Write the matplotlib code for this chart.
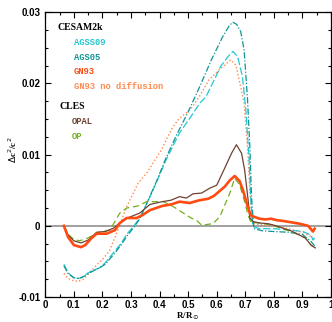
import matplotlib
matplotlib.use("Agg")
import matplotlib.pyplot as plt
from matplotlib.ticker import MultipleLocator, FuncFormatter

# ---- data ----
x_agss09 = [0.065, 0.08, 0.10, 0.116, 0.13, 0.15, 0.17, 0.19, 0.21, 0.244, 0.265, 0.285, 0.31, 0.331,
            0.36, 0.39, 0.422, 0.469, 0.509, 0.54, 0.562, 0.59, 0.614, 0.64, 0.657, 0.673, 0.69, 0.702,
            0.713, 0.72, 0.727, 0.75, 0.80, 0.856, 0.902, 0.93, 0.937, 0.943]
y_agss09 = [-0.0054, -0.0066, -0.0073, -0.0074, -0.0072, -0.0066, -0.0062, -0.0059, -0.0052, -0.0035,
            -0.0025, -0.0012, 0.0000, 0.0011, 0.0035, 0.0062, 0.0092, 0.0130, 0.0153, 0.0172, 0.0181,
            0.0204, 0.0224, 0.0238, 0.0245, 0.0238, 0.0210, 0.0163, 0.0097, 0.0030, -0.0001, -0.0004,
            -0.0004, -0.0006, -0.0008, -0.0013, -0.0020, -0.0017]

x_ags05 = [0.065, 0.08, 0.10, 0.12, 0.14, 0.16, 0.19, 0.21, 0.244, 0.265, 0.285, 0.31, 0.331, 0.36,
           0.39, 0.422, 0.46, 0.50, 0.54, 0.58, 0.62, 0.645, 0.657, 0.67, 0.684, 0.696, 0.708, 0.716,
           0.722, 0.73, 0.76, 0.80, 0.85, 0.90, 0.93, 0.943]
y_ags05 = [-0.0056, -0.0067, -0.0073, -0.0074, -0.0070, -0.0065, -0.0059, -0.0054, -0.0038, -0.0027,
           -0.0015, -0.0002, 0.0010, 0.0036, 0.0063, 0.0095, 0.0128, 0.0160, 0.0195, 0.0232, 0.0265,
           0.0282, 0.0286, 0.0283, 0.0273, 0.0247, 0.0177, 0.0111, 0.0040, -0.0004, -0.0007, -0.0008,
           -0.0009, -0.0012, -0.0022, -0.0028]

x_gn93 = [0.065, 0.08, 0.10, 0.125, 0.14, 0.16, 0.18, 0.215, 0.244, 0.261, 0.285, 0.32, 0.34, 0.366,
          0.41, 0.44, 0.47, 0.505, 0.54, 0.57, 0.59, 0.628, 0.646, 0.663, 0.68, 0.692, 0.705, 0.716,
          0.722, 0.75, 0.77, 0.79, 0.81, 0.83, 0.86, 0.89, 0.92, 0.937, 0.943]
y_gn93 = [0.0, -0.0016, -0.0027, -0.0030, -0.0027, -0.0018, -0.0011, -0.0011, -0.0006, 0.0004, 0.0011,
          0.0011, 0.0015, 0.0022, 0.0028, 0.0030, 0.0034, 0.0032, 0.0036, 0.0038, 0.0042, 0.0055, 0.0064,
          0.0070, 0.0063, 0.0050, 0.0032, 0.0018, 0.0014, 0.0010, 0.0009, 0.0010, 0.0008, 0.0007, 0.0005,
          0.0003, 0.0000, -0.0008, -0.0004]

x_gn93nd = [0.065, 0.08, 0.098, 0.115, 0.133, 0.155, 0.18, 0.205, 0.226, 0.256, 0.285, 0.325, 0.355,
            0.38, 0.407, 0.422, 0.445, 0.469, 0.492, 0.515, 0.538, 0.573, 0.608, 0.649, 0.667, 0.684,
            0.696, 0.708, 0.716, 0.725, 0.75, 0.80, 0.85, 0.90, 0.93, 0.943]
y_gn93nd = [-0.0067, -0.0074, -0.0077, -0.0078, -0.0075, -0.0066, -0.0055, -0.0045, -0.0034, -0.0004,
            0.0027, 0.0060, 0.0074, 0.0090, 0.0107, 0.0120, 0.0138, 0.0151, 0.0158, 0.0167, 0.0181,
            0.0205, 0.0219, 0.0233, 0.0226, 0.0195, 0.0172, 0.0110, 0.0050, 0.0003, 0.0002, 0.0000,
            -0.0004, -0.0009, -0.0015, -0.0020]

x_opal = [0.065, 0.08, 0.10, 0.125, 0.15, 0.18, 0.21, 0.24, 0.26, 0.28, 0.30, 0.331, 0.366, 0.41, 0.44,
          0.47, 0.494, 0.517, 0.547, 0.576, 0.60, 0.628, 0.652, 0.669, 0.687, 0.698, 0.71, 0.716, 0.727,
          0.75, 0.78, 0.80, 0.83, 0.86, 0.89, 0.91, 0.93, 0.945]
y_opal = [0.0, -0.0013, -0.0021, -0.0024, -0.0020, -0.0009, -0.0008, -0.0003, 0.0004, 0.0010, 0.0013,
          0.0018, 0.0030, 0.0034, 0.0036, 0.0041, 0.0039, 0.0045, 0.0046, 0.0053, 0.0057, 0.0081, 0.0102,
          0.0114, 0.0102, 0.0078, 0.0036, 0.0011, 0.0006, 0.0004, 0.0003, 0.0001, -0.0003, -0.0007,
          -0.0013, -0.0017, -0.0027, -0.0031]

x_op = [0.065, 0.08, 0.10, 0.12, 0.15, 0.18, 0.20, 0.226, 0.261, 0.285, 0.325, 0.355, 0.413, 0.448,
        0.483, 0.51, 0.529, 0.547, 0.587, 0.611, 0.646, 0.663, 0.68, 0.695, 0.71, 0.72, 0.75, 0.78, 0.80,
        0.83, 0.86, 0.89, 0.91, 0.93, 0.945]
y_op = [0.0, -0.0012, -0.0019, -0.0021, -0.0017, -0.0010, -0.0008, -0.0006, 0.0018, 0.0025, 0.0028,
        0.0034, 0.0034, 0.0027, 0.0018, 0.0011, 0.0008, 0.0001, 0.0003, 0.0013, 0.0046, 0.0067, 0.0058,
        0.0038, 0.0015, 0.0005, 0.0004, 0.0002, 0.0000, -0.0004, -0.0008, -0.0013, -0.0017, -0.0027,
        -0.0031]

c_agss09 = '#22c8d2'
c_ags05 = '#119494'
c_gn93 = '#ff4a12'
c_gn93nd = '#ff8a50'
c_opal = '#6e4232'
c_op = '#72b01e'

fig = plt.figure(figsize=(3.32, 3.22), dpi=100)
ax = fig.add_axes([0.1364, 0.0776, 0.8605, 0.8842])

ax.axhline(0, color='#999999', lw=1.3, zorder=1)

ax.plot(x_gn93nd, y_gn93nd, color=c_gn93nd, lw=1.0, ls=(0, (1, 1.6)))
ax.plot(x_agss09, y_agss09, color=c_agss09, lw=0.9, ls=(0, (6, 2)))
ax.plot(x_ags05, y_ags05, color=c_ags05, lw=0.9, ls=(0, (5, 1.5, 1, 1.5)))
ax.plot(x_op, y_op, color=c_op, lw=0.9, ls=(0, (5, 3)))
ax.plot(x_opal, y_opal, color=c_opal, lw=0.9)
ax.plot(x_gn93, y_gn93, color=c_gn93, lw=1.9)

ax.set_xlim(0, 1)
ax.set_ylim(-0.01, 0.03)
ax.xaxis.set_major_locator(MultipleLocator(0.1))
ax.xaxis.set_minor_locator(MultipleLocator(0.05))
ax.yaxis.set_major_locator(MultipleLocator(0.01))
ax.yaxis.set_minor_locator(MultipleLocator(0.0025))
ax.xaxis.set_major_formatter(FuncFormatter(lambda v, p: '0' if abs(v) < 1e-9 else ('1' if abs(v - 1) < 1e-9 else f'{v:.1f}')))
ax.yaxis.set_major_formatter(FuncFormatter(lambda v, p: '0' if abs(v) < 1e-9 else f'{v:.2f}'))
ax.tick_params(which='both', direction='in', top=True, right=True, width=0.8)
ax.tick_params(which='major', length=4)
ax.tick_params(which='minor', length=2)
ax.tick_params(axis='x', pad=2.5)
for lab in ax.get_xticklabels() + ax.get_yticklabels():
    lab.set_fontfamily('Liberation Sans')
    lab.set_fontweight('bold')
    lab.set_fontsize(7)
for s in ax.spines.values():
    s.set_linewidth(0.9)

# axis titles placed by hand so they stay inside the small canvas
fig.text(188 / 332, (322 - 316) / 322, r'R/R$_\odot$', fontsize=6.5, fontweight='bold',
         family='Liberation Serif', ha='center', va='center')
fig.text(13 / 332, (322 - 150) / 322, r'$\Delta$c$^2$/c$^2$', fontsize=6.5, fontweight='bold',
         family='Liberation Serif', ha='center', va='center', rotation=90)

# labels of the models
hdr = dict(fontsize=7, fontweight='bold', family='Liberation Serif', va='center')
ent = dict(fontsize=6.3, fontweight='bold', family='Liberation Mono', va='center')
ax.text(0.044, 0.0278, 'CESAM2k', color='black', **hdr)
ax.text(0.100, 0.0257, 'AGSS09', color=c_agss09, **ent)
ax.text(0.100, 0.0237, 'AGS05', color=c_ags05, **ent)
ax.text(0.100, 0.0217, 'GN93', color=c_gn93, **ent)
ax.text(0.100, 0.0196, 'GN93 no diffusion', color=c_gn93nd, **ent)
ax.text(0.051, 0.0167, 'CLES', color='black', **hdr)
ax.text(0.093, 0.0146, 'OPAL', color=c_opal, **ent)
ax.text(0.093, 0.0126, 'OP', color=c_op, **ent)

fig.savefig('out.png', dpi=100)
